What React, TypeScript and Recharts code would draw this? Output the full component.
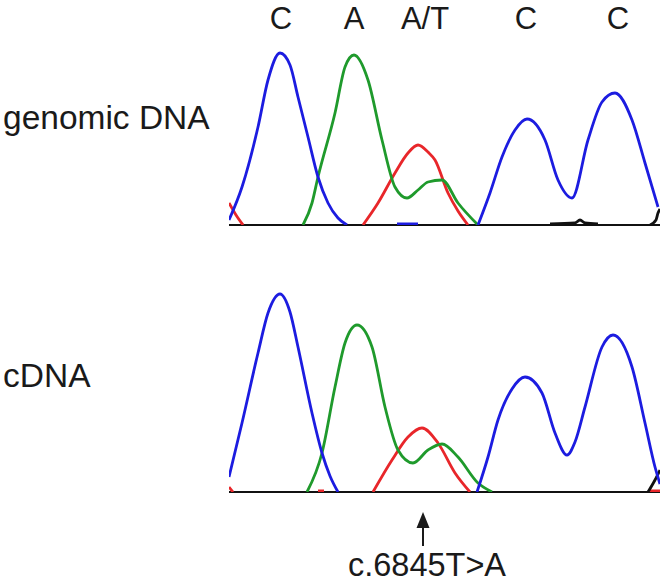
import React from "react";
import { LineChart, Line, XAxis, YAxis, ReferenceLine } from "recharts";

// scan position (0..431) and signal height pairs; null breaks a trace
type Pt = [number, number | null];

const baseCalls = ["C", "A", "A/T", "C", "C"];
const baseCallPositions = [52, 125, 196, 297, 389];
const sampleLabels = ["genomic DNA", "cDNA"];
const mutationLabel = "c.6845T>A";
const mutationPosition = 194;

const genomicBlue: Pt[] = [
  [0, 5], [13, 38], [29, 98], [39, 145], [51, 172], [61, 160], [69, 128], [79, 88], [89, 48], [99, 22], [109, 7], [118, 0],
  [119, null],
  [168, 1], [189, 1],
  [190, null],
  [249, 0], [261, 32], [273, 68], [286, 95], [298, 106], [316, 85], [329, 45], [343, 27], [359, 85], [373, 123], [386, 132], [403, 105], [416, 62], [429, 18],
];
const genomicGreen: Pt[] = [
  [74, 0], [83, 22], [89, 48], [106, 112], [116, 158], [125, 170], [139, 145], [153, 85], [166, 38], [178, 27], [189, 35], [199, 43], [213, 45], [229, 22], [249, 0],
];
const genomicRed: Pt[] = [
  [0, 22], [7, 10], [14, 0],
  [15, null],
  [134, 0], [149, 22], [166, 52], [179, 72], [189, 80], [199, 73], [206, 65], [219, 32], [229, 14], [239, 0],
];
const genomicBlack: Pt[] = [
  [321, 1], [346, 2], [351, 5], [356, 2], [369, 1],
  [370, null],
  [421, 0], [427, 5], [429, 12], [431, 16],
];

const cdnaBlue: Pt[] = [
  [0, 15], [13, 69], [29, 139], [39, 179], [51, 198], [61, 180], [69, 145], [83, 79], [93, 39], [101, 16], [109, 0],
  [110, null],
  [248, 0], [259, 35], [269, 72], [283, 103], [296, 115], [313, 99], [326, 59], [338, 37], [346, 50], [356, 85], [373, 145], [384, 157], [403, 125], [416, 69], [426, 25], [431, 8],
];
const cdnaGreen: Pt[] = [
  [78, 0], [93, 39], [106, 105], [116, 149], [128, 167], [143, 145], [156, 85], [169, 42], [184, 29], [199, 42], [213, 48], [229, 35], [249, 9], [263, 0],
];
const cdnaRed: Pt[] = [
  [0, 5], [4, 0],
  [5, null],
  [89, 1], [95, 1],
  [96, null],
  [144, 0], [163, 32], [179, 55], [193, 64], [209, 49], [226, 19], [241, 0],
  [242, null],
  [419, 1], [431, 1],
];
const cdnaBlack: Pt[] = [
  [419, 0], [426, 12], [431, 22],
];

const COLORS = { blue: "#1c1ce0", green: "#1f9a2c", red: "#e8262a", black: "#111111" };
const FONT = "'Liberation Sans', Arial, Helvetica, sans-serif";

const toRows = (pts: Pt[]) => pts.map(([x, y]) => ({ x, y }));

function Trace({ traces, top }: { traces: { pts: Pt[]; color: string }[]; top: number }) {
  return (
    <div style={{ position: "absolute", left: 0, top: 0 }}>
      <LineChart width={662} height={583} margin={{ top, right: 2, bottom: 583 - top - 200, left: 229 }}>
        <XAxis type="number" dataKey="x" domain={[0, 431]} hide allowDataOverflow />
        <YAxis type="number" domain={[0, 200]} hide allowDataOverflow />
        <ReferenceLine y={0} stroke="#111" strokeWidth={2} />
        {traces.map((t, i) => (
          <Line
            key={i}
            data={toRows(t.pts)}
            dataKey="y"
            type="monotone"
            stroke={t.color}
            strokeWidth={2.8}
            dot={false}
            activeDot={false}
            connectNulls={false}
            isAnimationActive={false}
          />
        ))}
      </LineChart>
    </div>
  );
}

export default function App() {
  const xPx = (v: number) => 229 + v;
  return (
    <div style={{ position: "absolute", left: 0, top: 0, width: 662, height: 583, background: "#fff", overflow: "hidden" }}>
      <Trace
        top={25}
        traces={[
          { pts: genomicRed, color: COLORS.red },
          { pts: genomicBlack, color: COLORS.black },
          { pts: genomicGreen, color: COLORS.green },
          { pts: genomicBlue, color: COLORS.blue },
        ]}
      />
      <Trace
        top={292}
        traces={[
          { pts: cdnaRed, color: COLORS.red },
          { pts: cdnaBlack, color: COLORS.black },
          { pts: cdnaGreen, color: COLORS.green },
          { pts: cdnaBlue, color: COLORS.blue },
        ]}
      />
      <svg width={662} height={583} style={{ position: "absolute", left: 0, top: 0, pointerEvents: "none" }}>
        <g fontFamily={FONT} fill="#1a1a1a">
          {baseCalls.map((b, i) => (
            <text key={i} x={xPx(baseCallPositions[i])} y={29} fontSize={31} textAnchor="middle">{b}</text>
          ))}
          <text x={3} y={129} fontSize={33.5}>{sampleLabels[0]}</text>
          <text x={3} y={387} fontSize={33.5}>{sampleLabels[1]}</text>
          <text x={xPx(mutationPosition) + 4} y={576} fontSize={32.5} textAnchor="middle">{mutationLabel}</text>
        </g>
        <line x1={xPx(mutationPosition)} y1={520} x2={xPx(mutationPosition)} y2={546} stroke="#1a1a1a" strokeWidth={2} />
        <path
          d={`M ${xPx(mutationPosition)} 512 L ${xPx(mutationPosition) - 6.5} 528 L ${xPx(mutationPosition) + 6.5} 528 Z`}
          fill="#1a1a1a"
        />
      </svg>
    </div>
  );
}
